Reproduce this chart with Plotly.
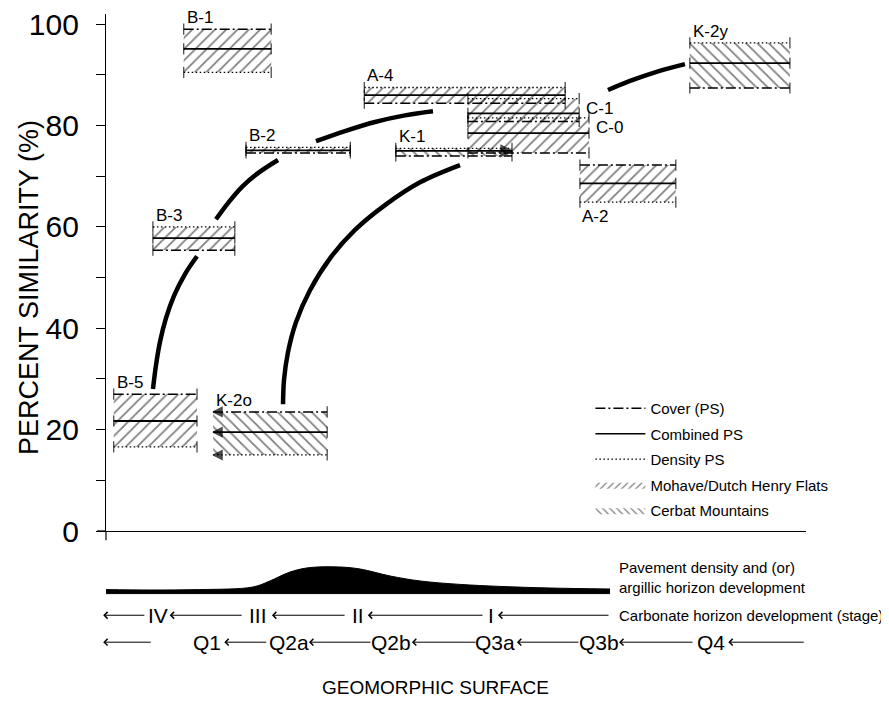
import plotly.graph_objects as go

# ---------------- data ----------------
samples  = ["B-1", "B-2", "B-3", "B-5", "K-2o", "K-1", "A-4", "C-1", "C-0", "A-2", "K-2y"]
x_start  = [11.1, 20.0, 6.7, 1.1, 15.3, 41.4, 36.9, 51.7, 51.7, 67.7, 83.4]
x_end    = [23.6, 34.9, 18.4, 13.0, 31.6, 58.0, 65.6, 67.6, 69.0, 81.4, 97.7]
cover    = [99.0, 74.6, 55.4, 27.0, 23.5, 74.0, 84.4, 80.8, 74.6, 72.2, 87.4]
combined = [95.1, 75.1, 57.8, 21.7, 19.5, 75.0, 86.0, 82.4, 78.5, 68.6, 92.3]
density  = [90.5, 75.7, 60.0, 16.6, 15.0, 75.5, 87.5, 85.3, 81.5, 64.9, 96.3]
region   = ["Mohave", "Mohave", "Mohave", "Mohave", "Cerbat", "Cerbat",
            "Mohave", "Mohave", "Mohave", "Mohave", "Cerbat"]
label_side = ["above", "above", "above", "above", "above", "above",
              "above", "right", "right", "below", "above"]

# trend curves (geomorphic position, percent similarity)
trend_x = [
    [6.71, 7.14, 7.71, 8.57, 9.71, 11.29, 13.0],
    [15.71, 17.43, 19.43, 21.71, 24.57],
    [30.0, 34.14, 38.43, 42.71, 46.71],
    [71.71, 74.86, 78.43, 82.71],
    [25.29, 25.43, 26.0, 27.14, 29.14, 32.0, 35.57, 39.86, 44.86, 50.57],
]
trend_y = [
    [28.0, 32.7, 37.3, 42.0, 46.4, 50.7, 54.2],
    [61.5, 64.7, 67.9, 70.6, 73.2],
    [76.9, 78.9, 80.7, 82.0, 82.8],
    [87.0, 88.8, 90.5, 92.1],
    [25.0, 29.8, 35.3, 41.2, 47.5, 53.8, 59.4, 64.3, 68.8, 72.2],
]

# pavement density / argillic horizon development profile
profile_x    = [0.0, 6.3, 13.4, 21.0, 23.4, 26.3, 29.1, 33.4, 36.3, 40.6, 44.9, 50.6, 56.3, 63.4, 72.0]
profile_top  = [2.6, 2.5, 2.6, 3.25, 4.75, 7.0, 8.1, 8.25, 7.75, 6.0, 4.75, 3.9, 3.4, 3.0, 2.75]
profile_base = 1.6

# carbonate stages and geomorphic surfaces along the x axis
stage_labels = ["IV", "III", "II", "I"]
stage_x      = [7.43, 21.7, 36.0, 55.0]
stage_arrows = [(-0.4, 5.7), (9.1, 19.6), (23.7, 34.3), (37.4, 54.0), (56.0, 72.0)]
surface_labels = ["Q1", "Q2a", "Q2b", "Q3a", "Q3b", "Q4"]
surface_x      = [14.4, 26.2, 40.7, 55.6, 70.4, 86.4]
surface_arrows = [(-0.4, 6.6), (16.9, 23.1), (29.0, 38.0), (43.7, 53.0), (58.7, 67.7), (73.3, 84.0), (88.9, 99.9)]

y_ticks = list(range(0, 101, 10))

# ---------------- styles ----------------
SANS = "Liberation Sans, Arial, Helvetica"
DASH_COVER = "10px,3px,2px,3px"
DASH_DENS = "1.5px,2.5px"
HATCH = {"Mohave": "/", "Cerbat": "\\"}

fig = go.Figure()

# hatched boxes
for i, name in enumerate(samples):
    lo = min(cover[i], combined[i], density[i])
    hi = max(cover[i], combined[i], density[i])
    fig.add_trace(go.Scatter(
        x=[x_start[i], x_end[i], x_end[i], x_start[i], x_start[i]],
        y=[lo, lo, hi, hi, lo],
        mode="lines", line=dict(width=0), fill="toself",
        fillcolor="rgba(0,0,0,0)",
        fillpattern=dict(shape=HATCH[region[i]], fgcolor="black", bgcolor="rgba(0,0,0,0)",
                         size=8, solidity=0.22),
        showlegend=False, hoverinfo="skip"))

# the three similarity lines with end caps
for i, name in enumerate(samples):
    for vals, dash, w in ((cover, DASH_COVER, 1.5), (combined, "solid", 1.8), (density, DASH_DENS, 1.3)):
        left_sym = "arrow-left" if name == "K-2o" else "line-ns"
        right_sym = "arrow-right" if (name == "K-1" and vals is combined) else "line-ns"
        fig.add_trace(go.Scatter(
            x=[x_start[i], x_end[i]], y=[vals[i], vals[i]],
            mode="lines+markers",
            line=dict(color="black", width=w, dash=dash),
            marker=dict(symbol=[left_sym, right_sym], size=[8 if left_sym == "line-ns" else 9,
                                                            8 if right_sym == "line-ns" else 11],
                        color="black", line=dict(color="black", width=1.3)),
            showlegend=False, hoverinfo="skip"))

# trend curves
for tx, ty in zip(trend_x, trend_y):
    fig.add_trace(go.Scatter(x=tx, y=ty, mode="lines",
                             line=dict(color="black", width=4.5, shape="spline"),
                             showlegend=False, hoverinfo="skip"))

# pavement profile (second axis strip): base line, then the top filled down to it
fig.add_trace(go.Scatter(
    x=profile_x, y=[profile_base] * len(profile_x), mode="lines",
    line=dict(color="black", width=1), xaxis="x2", yaxis="y2",
    showlegend=False, hoverinfo="skip"))
fig.add_trace(go.Scatter(
    x=profile_x, y=profile_top, mode="lines",
    line=dict(color="black", width=1, shape="spline"), fill="tonexty",
    fillcolor="black", xaxis="x2", yaxis="y2", showlegend=False, hoverinfo="skip"))

# legend entries
legend_items = [
    ("Cover (PS)", dict(mode="lines", line=dict(color="black", width=1.5, dash=DASH_COVER))),
    ("Combined PS", dict(mode="lines", line=dict(color="black", width=1.5))),
    ("Density PS", dict(mode="lines", line=dict(color="black", width=1.3, dash=DASH_DENS))),
    ("Mohave/Dutch Henry Flats", dict(mode="lines", line=dict(width=0), fill="toself",
                                      fillcolor="rgba(0,0,0,0)",
                                      fillpattern=dict(shape="/", fgcolor="black", bgcolor="rgba(0,0,0,0)",
                                                       size=5, solidity=0.25))),
    ("Cerbat Mountains", dict(mode="lines", line=dict(width=0), fill="toself",
                              fillcolor="rgba(0,0,0,0)",
                              fillpattern=dict(shape="\\", fgcolor="black", bgcolor="rgba(0,0,0,0)",
                                               size=5, solidity=0.25))),
]
for k, (nm, kw) in enumerate(legend_items):
    fig.add_trace(go.Scatter(x=[None], y=[None], name=nm, legendgroup=str(k), **kw))

annotations = []
# sample labels
for i, name in enumerate(samples):
    lo = min(cover[i], combined[i], density[i])
    hi = max(cover[i], combined[i], density[i])
    if label_side[i] == "above":
        annotations.append(dict(x=x_start[i], y=hi, text=name, xanchor="left", yanchor="bottom",
                                xshift=1, yshift=0, showarrow=False))
    elif label_side[i] == "right":
        annotations.append(dict(x=x_end[i], y=hi, text=name, xanchor="left", yanchor="top",
                                xshift=5, yshift=2, showarrow=False))
    else:
        annotations.append(dict(x=x_start[i], y=lo, text=name, xanchor="left", yanchor="top",
                                xshift=0, yshift=-3, showarrow=False))
for a in annotations:
    a.update(xref="x", yref="y", font=dict(family=SANS, size=17, color="black"))

# bottom rows
ROW_STAGE = -0.026
ROW_SURF = -0.072
for lab, xv in zip(stage_labels, stage_x):
    annotations.append(dict(x=xv, y=ROW_STAGE, xref="x", yref="paper", text=lab, showarrow=False,
                            xanchor="center", yanchor="middle",
                            font=dict(family=SANS, size=21, color="black")))
for lab, xv in zip(surface_labels, surface_x):
    annotations.append(dict(x=xv, y=ROW_SURF, xref="x", yref="paper", text=lab, showarrow=False,
                            xanchor="center", yanchor="middle",
                            font=dict(family=SANS, size=21, color="black")))
for row, arrows in ((ROW_STAGE, stage_arrows), (ROW_SURF, surface_arrows)):
    for head, tail in arrows:
        annotations.append(dict(x=head, y=row, xref="x", yref="paper", ax=tail, ay=0,
                                axref="x", ayref="pixel", text="", showarrow=True,
                                arrowhead=4, arrowsize=1.3, arrowwidth=1, arrowcolor="black",
                                standoff=0, startstandoff=0))

annotations += [
    dict(x=0.73, y=0.055, xref="paper", yref="paper", text="Pavement density and (or)",
         xanchor="left", yanchor="middle", showarrow=False,
         font=dict(family=SANS, size=15, color="black")),
    dict(x=0.73, y=0.022, xref="paper", yref="paper", text="argillic horizon development",
         xanchor="left", yanchor="middle", showarrow=False,
         font=dict(family=SANS, size=15, color="black")),
    dict(x=0.73, y=ROW_STAGE, xref="paper", yref="paper", text="Carbonate horizon development (stage)",
         xanchor="left", yanchor="middle", showarrow=False,
         font=dict(family=SANS, size=15, color="black")),
    dict(x=0.47, y=-0.150, xref="paper", yref="paper", text="GEOMORPHIC SURFACE",
         xanchor="center", yanchor="middle", showarrow=False,
         font=dict(family=SANS, size=19, color="black")),
    dict(x=-0.111, y=0.533, xref="paper", yref="paper", text="PERCENT SIMILARITY (%)",
         xanchor="center", yanchor="middle", textangle=-90, showarrow=False,
         font=dict(family=SANS, size=27, color="black")),
]

shapes = [
    # axis extensions beyond the origin
    dict(type="line", xref="paper", yref="paper", x0=-9 / 700, x1=0, y0=0.11775, y1=0.11775,
         line=dict(color="black", width=1.2)),
    dict(type="line", xref="paper", yref="paper", x0=0, x1=0, y0=0.11775, y1=0.102,
         line=dict(color="black", width=1.2)),
]

# margins compensate for the 8px default page margin around the plot div
fig.update_layout(
    width=889, height=702,
    margin=dict(l=98, r=91, t=6, b=110, autoexpand=False),
    paper_bgcolor="white", plot_bgcolor="white",
    xaxis=dict(domain=[0, 1], range=[0, 100], anchor="y", showline=True, linecolor="black",
               linewidth=1.2, showticklabels=False, ticks="", showgrid=False, zeroline=False,
               automargin=False),
    yaxis=dict(domain=[0.11775, 1], range=[0, 102], anchor="x", showline=True, linecolor="black",
               linewidth=1.2, ticks="outside", ticklen=9, tickwidth=1.2, tickcolor="black",
               tickvals=y_ticks, ticktext=[str(v) if v % 20 == 0 else "" for v in y_ticks],
               tickfont=dict(family=SANS, size=30, color="black"), ticklabelstandoff=11,
               ticklabeloverflow="allow",
               showgrid=False, zeroline=False, automargin=False),
    xaxis2=dict(domain=[0, 1], range=[0, 100], anchor="y2", visible=False, automargin=False),
    yaxis2=dict(domain=[0, 0.06826], range=[0, 10], anchor="x2", visible=False, automargin=False),
    legend=dict(x=0.692, y=0.355, xanchor="left", yanchor="top", bgcolor="rgba(0,0,0,0)",
                font=dict(family=SANS, size=15, color="black"), traceorder="grouped",
                tracegroupgap=3, itemwidth=50),
    annotations=annotations, shapes=shapes,
    showlegend=True,
)

fig.write_html("out.html")
